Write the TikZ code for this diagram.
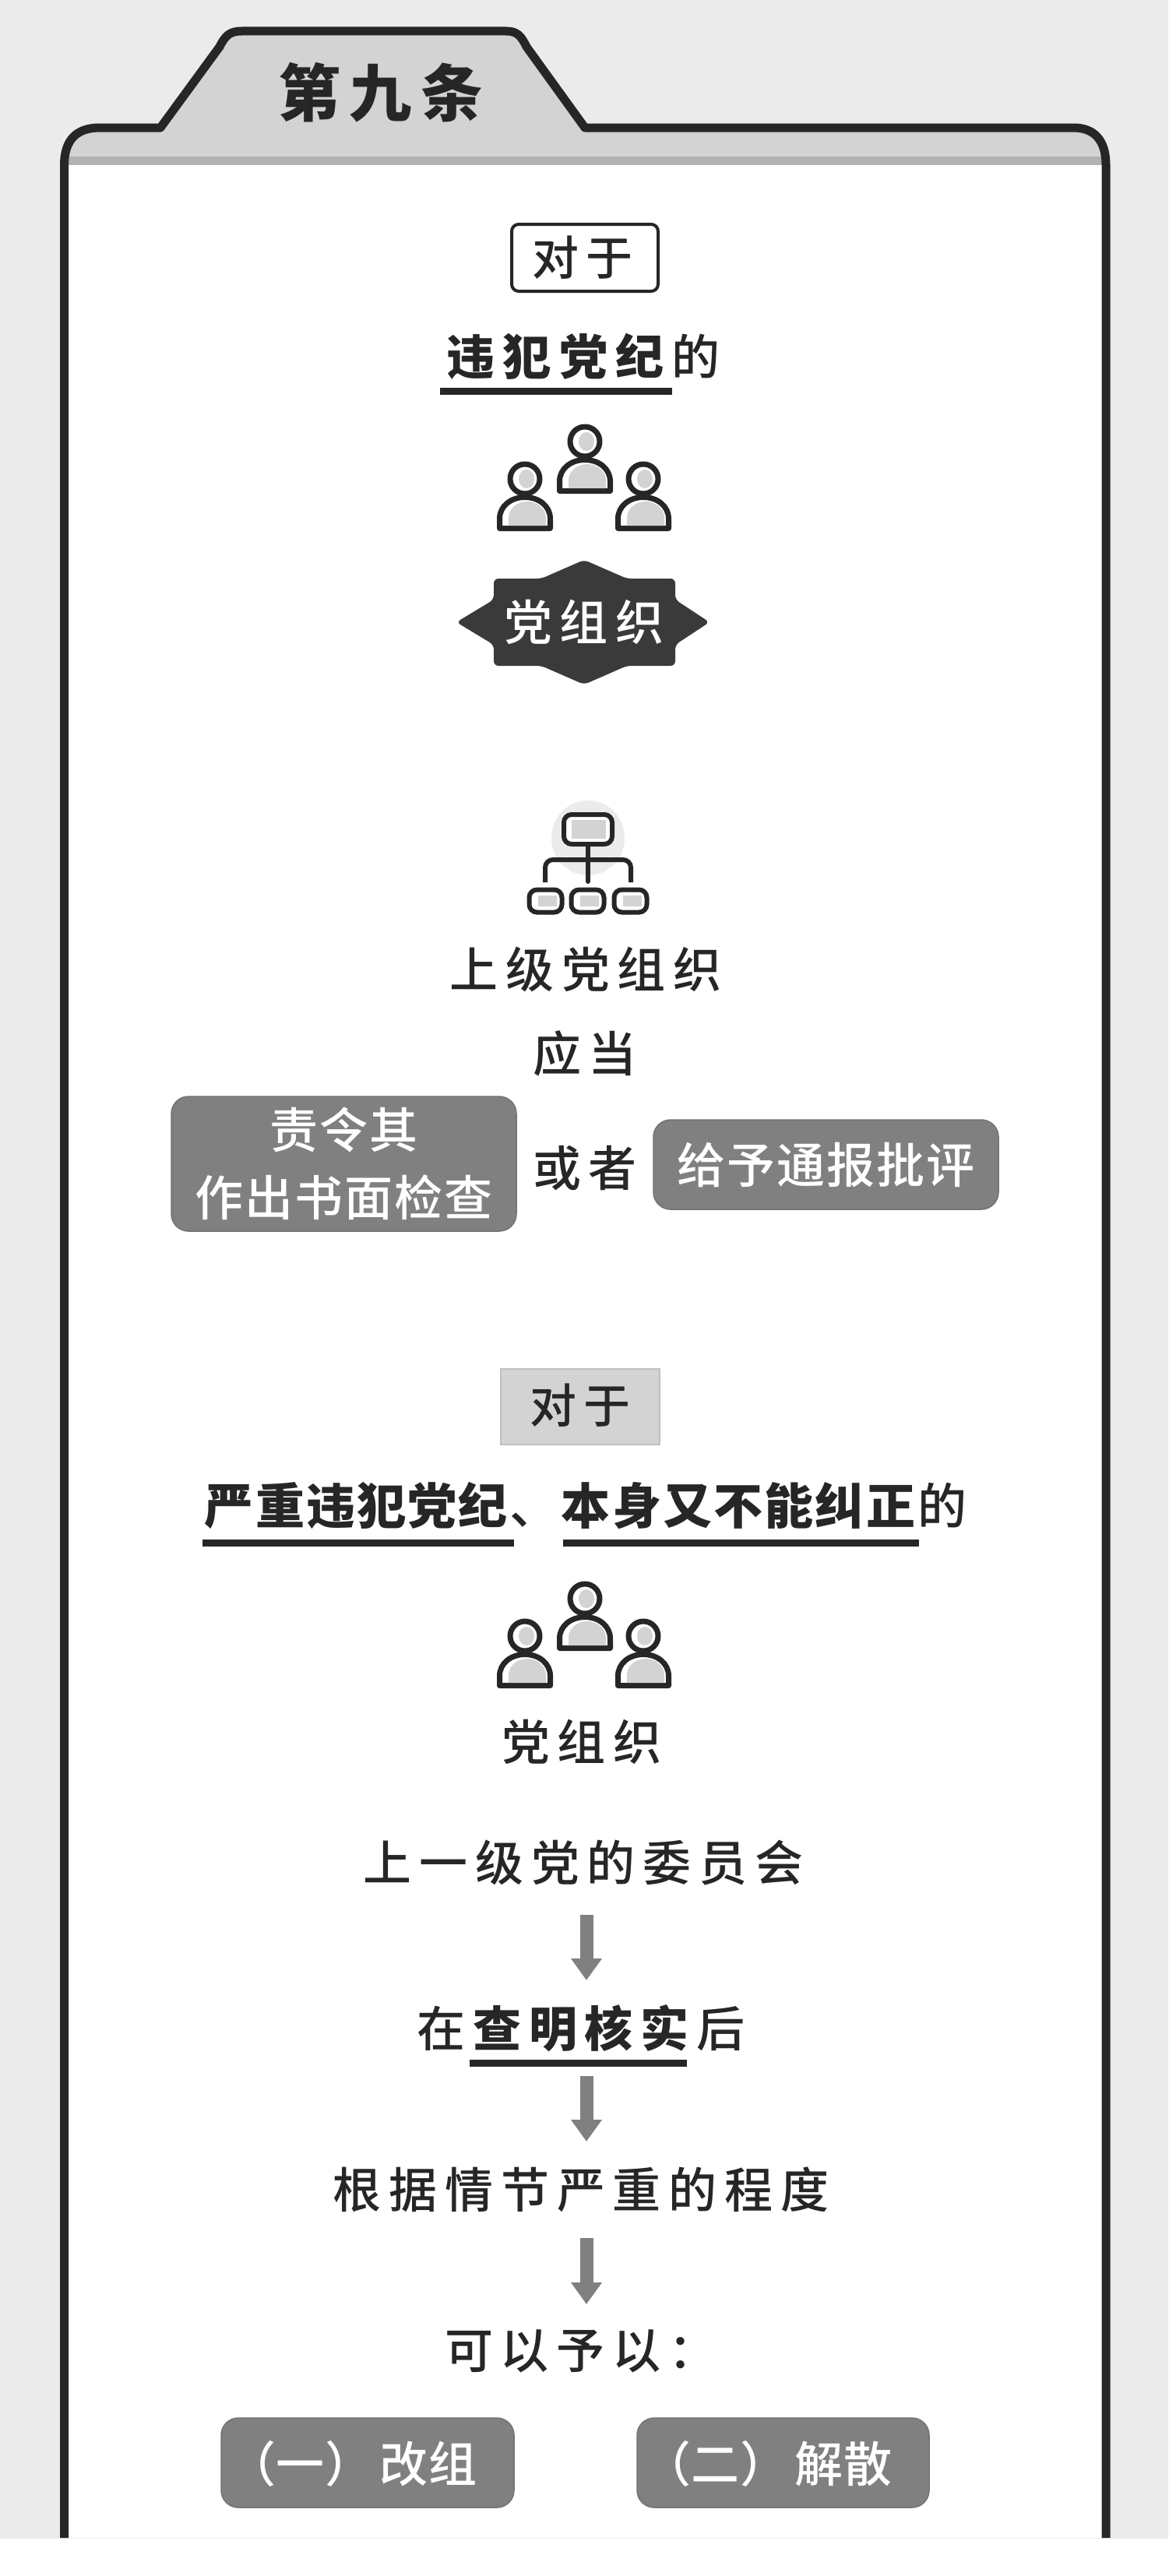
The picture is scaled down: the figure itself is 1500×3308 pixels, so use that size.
\documentclass[tikz,border=0pt]{standalone}
\usepackage{fontspec}
\setmainfont{Noto Sans CJK SC Medium}
\newfontfamily\heavy{Noto Sans CJK SC}
\usetikzlibrary{arrows.meta}
\definecolor{ink}{HTML}{262626}
\definecolor{pagebg}{HTML}{EBEBEB}
\definecolor{headgray}{HTML}{D3D3D3}
\definecolor{stripegray}{HTML}{B2B2B2}
\definecolor{midgray}{HTML}{808080}
\definecolor{badgegray}{HTML}{3A3A3A}
\newcommand\sized[2]{\fontsize{#1}{#1}\selectfont\addfontfeature{LetterSpace=#2}}
\newcommand\hv[2]{{\heavy\bfseries\addfontfeature{LetterSpace=#1}#2}}
\newcommand\framepath{(82.5,3259) -- (82.5,212) .. controls (82.5,180) and (98,164) .. (128,164) -- (206,164) -- (282,60) .. controls (289,46) and (295,40) .. (310,40) -- (650,40) .. controls (664,40) and (669,46) .. (676,60) -- (751,164) -- (1378,164) .. controls (1405,164) and (1420,180) .. (1420,212) -- (1420,3259)}
\newcommand\oneperson[2]{%
\begin{scope}[shift={(#1,#2)}]
\draw[iconline,fill=white] (-32.5,63.5) -- (-32.5,51) .. controls (-32.5,35) and (-18,23.5) .. (0,23.5) .. controls (18,23.5) and (32.5,35) .. (32.5,51) -- (32.5,63.5) -- cycle;
\fill[headgray] (-21,60) -- (-21,50) .. controls (-21,38) and (-10,29) .. (3,29) .. controls (16,29) and (27,38) .. (27,50) -- (27,60) -- cycle;
\draw[iconline,fill=white] (0,0) circle (19);
\fill[headgray] (2,0) ellipse (10 and 12);
\end{scope}}
\newcommand\threepeople[1]{%
\begin{scope}[shift={(0,#1)}]
\oneperson{674}{615}
\oneperson{826}{615}
\oneperson{751}{567}
\end{scope}}
\tikzset{
 iconline/.style={draw=ink,line width=7pt,line join=round},
 txt/.style={inner sep=0pt,outer sep=0pt,text=ink,font=\sized{62}{16}},
 graybox/.style={draw=black!55,line width=1.5pt,fill=midgray,rounded corners=22pt,inner sep=0pt,text=white,align=center,font=\sized{62}{3.5}},
 uline/.style={line width=9pt,draw=ink},
 flow/.style={draw=midgray,line width=17pt,-{Triangle[length=28pt,width=38pt]}},
 smallbox/.style={draw=ink,line width=6pt,fill=white,rounded corners=10pt},
}
\begin{document}
\begin{tikzpicture}[x=1pt,y=-1pt]
\useasboundingbox (0,0) rectangle (1500,3308);
\fill[pagebg] (0,0) rectangle (1500,3308);
% frame
\fill[white] \framepath -- cycle;
\begin{scope}
\clip (0,0) rectangle (1500,201);
\fill[headgray] \framepath -- cycle;
\end{scope}
\fill[stripegray] (85,201) rectangle (1418,212);
\draw[ink,line width=11pt,line join=round] \framepath;
\fill[white] (0,3259.5) rectangle (1500,3308);
\node[txt,font=\fontsize{80}{80}\selectfont] (title) at (489,119) {\hv{14}{第九条}};
% first block
\node[draw=ink,line width=4pt,fill=white,rounded corners=9pt,minimum width=188pt,minimum height=86pt,inner sep=0pt] (duiyu1) at (751,331) {};
\node[txt,font=\sized{60}{15}] (duiyu1t) at (748,331) {对于};
\node[txt,font=\sized{62}{17}] (viol) at (749,458) {\hv{17}{违犯党纪}\kern10pt 的};
\draw[uline] (565,502.5) -- (863,502.5);
\threepeople{0}
\path[fill=badgegray,rounded corners=6pt] (634,743) -- (695,743) -- (750,719) -- (805,743) -- (867,743) -- (867,770) -- (911,799) -- (867,828) -- (867,855) -- (805,855) -- (750,879) -- (695,855) -- (634,855) -- (634,828) -- (586,799) -- (634,770) -- cycle;
\node[txt,text=white,font=\sized{62}{16}] (org1) at (750,799) {党组织};
% org chart icon
\fill[pagebg] (755,1076) ellipse (47 and 48);
\draw[ink,line width=6pt,line cap=round] (755,1085) -- (755,1132);
\draw[ink,line width=6pt,rounded corners=10pt] (700,1133) -- (700,1104) -- (810,1104) -- (810,1133);
\node[smallbox,minimum width=62pt,minimum height=38pt,inner sep=0pt] (chart0) at (755,1065) {};
\fill[headgray] (734,1053) rectangle (778,1077);
\node[smallbox,minimum width=42pt,minimum height=29pt,inner sep=0pt] (chart1) at (700.5,1157) {};
\node[smallbox,minimum width=42pt,minimum height=29pt,inner sep=0pt] (chart2) at (754.5,1157) {};
\node[smallbox,minimum width=42pt,minimum height=29pt,inner sep=0pt] (chart3) at (809.5,1157) {};
\fill[headgray] (691,1150) rectangle (715,1164) (745,1150) rectangle (769,1164) (800,1150) rectangle (824,1164);
\node[txt] (upper) at (752,1245) {上级党组织};
\node[txt] (should) at (751,1353) {应当};
\node[graybox,minimum width=443pt,minimum height=173pt,font=\fontsize{62}{87}\selectfont\addfontfeature{LetterSpace=3.5}] (box1) at (441.5,1494.5) {责令其\\作出书面检查};
\node[txt] (or) at (751,1500) {或者};
\node[graybox,minimum width=443pt,minimum height=115pt] (box2) at (1060.5,1495.5) {给予通报批评};
% second block
\node[draw=black!25,line width=2pt,fill=headgray,minimum width=204pt,minimum height=97pt,inner sep=0pt] (duiyu2) at (745,1806.5) {};
\node[txt,font=\sized{60}{15}] (duiyu2t) at (745,1805) {对于};
\node[txt,font=\sized{63}{3.5}] (serious) at (752,1934) {\hv{3.5}{严重违犯党纪}\kern3pt 、\kern3pt\hv{3.5}{本身又不能纠正}\kern3pt 的};
\draw[uline] (260,1981) -- (660,1981);
\draw[uline] (723,1981) -- (1180,1981);
\threepeople{1486}
\node[txt] (org2) at (747,2237) {党组织};
\node[txt] (committee) at (749,2392) {上一级党的委员会};
\coordinate (a1s) at (753,2459);
\coordinate (a1e) at (753,2543);
\draw[flow] (a1s) -- (a1e);
\node[txt] (verify) at (746,2605) {在\kern10pt\hv{16}{查明核实}\kern10pt 后};
\draw[uline] (603,2649.5) -- (882,2649.5);
\coordinate (a2s) at (753,2666);
\coordinate (a2e) at (753,2750);
\draw[flow] (a2s) -- (a2e);
\node[txt] (degree) at (746,2812) {根据情节严重的程度};
\coordinate (a3s) at (753,2874);
\coordinate (a3e) at (753,2959);
\draw[flow] (a3s) -- (a3e);
\node[txt,anchor=west] (may) at (571,3019) {可以予以：};
\node[graybox,minimum width=376pt,minimum height=115pt] (box3) at (472,3162.5) {};
\node[graybox,minimum width=375pt,minimum height=115pt] (box4) at (1005.5,3162.5) {};
\node[inner sep=0pt,anchor=west,text=white,font=\sized{62}{1}] (box3t) at (292,3164) {（一）\kern8pt 改组};
\node[inner sep=0pt,anchor=west,text=white,font=\sized{62}{1}] (box4t) at (825,3164) {（二）\kern8pt 解散};
\end{tikzpicture}
\end{document}
